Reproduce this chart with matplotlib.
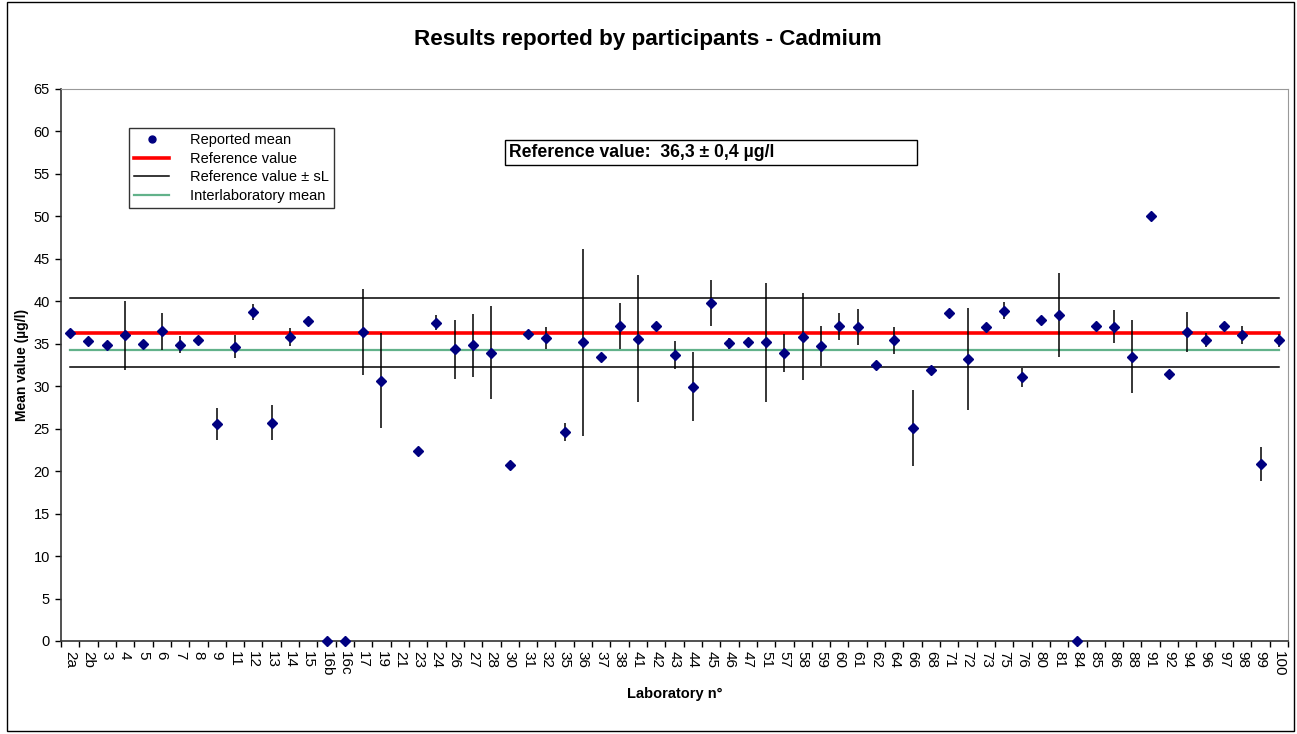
import matplotlib
matplotlib.use("Agg")
import matplotlib.pyplot as plt
from matplotlib.lines import Line2D
from matplotlib.patches import Rectangle
import numpy as np

plt.rcParams['font.family'] = ['Liberation Sans', 'DejaVu Sans']

# laboratory codes along the x axis
labs = ['2a', '2b', '3', '4', '5', '6', '7', '8', '9', '11', '12', '13', '14', '15',
        '16b', '16c', '17', '19', '21', '23', '24', '26', '27', '28', '30', '31', '32',
        '35', '36', '37', '38', '41', '42', '43', '44', '45', '46', '47', '51', '57',
        '58', '59', '60', '61', '62', '64', '66', '68', '71', '72', '73', '75', '76',
        '80', '81', '84', '85', '86', '88', '91', '92', '94', '96', '97', '98', '99', '100']

# reported means (ug/l), lab 21 sent no result
means = [36.25, 35.3, 34.9, 36.0, 34.95, 36.45, 34.9, 35.4, 25.55, 34.65, 38.7, 25.7, 35.75, 37.7,
         0.0, 0.0, 36.35, 30.65, np.nan, 22.4, 37.5, 34.35, 34.8, 33.95, 20.7, 36.15, 35.7,
         24.6, 35.15, 33.4, 37.1, 35.6, 37.05, 33.65, 29.95, 39.8, 35.05, 35.15, 35.15, 33.9,
         35.85, 34.7, 37.05, 37.0, 32.55, 35.4, 25.1, 31.95, 38.65, 33.2, 36.95, 38.9, 31.05,
         37.75, 38.35, 0.0, 37.05, 37.0, 33.5, 50.0, 31.4, 36.4, 35.45, 37.05, 36.05, 20.85, 35.4]

# half width of the uncertainty bars
errs = [0, 0, 0.4, 4.05, 0, 2.2, 1.0, 0, 1.85, 1.35, 0.95, 2.05, 1.05, 0,
        0, 0, 5.05, 5.6, np.nan, 0, 0.85, 3.45, 3.75, 5.5, 0, 0, 1.3,
        1.1, 11.05, 0, 2.7, 7.45, 0, 1.65, 4.05, 2.7, 0.65, 0, 6.95, 2.25,
        5.1, 2.35, 1.55, 2.15, 0, 1.55, 4.5, 0, 0, 6.05, 0, 1.0, 1.1,
        0, 4.95, 0, 0, 1.95, 4.3, 0, 0, 2.35, 0.85, 0.3, 1.05, 2.0, 0.75]

ref_value = 36.3
s_L = 4.05
interlab_mean = 34.3

x = np.arange(len(labs))
ref_line = np.full(len(labs), ref_value)
upper = ref_line + s_L
lower = ref_line - s_L
mean_line = np.full(len(labs), interlab_mean)

W, H = 1297, 734
fig = plt.figure(figsize=(W / 100, H / 100), dpi=100)
ax = fig.add_axes([61 / W, (H - 641) / H, (1288 - 61) / W, (641 - 89) / H])

# reference lines
ax.plot(x, upper, color='black', lw=1.1, zorder=2)
ax.plot(x, lower, color='black', lw=1.1, zorder=2)
ax.plot(x, mean_line, color='#62b28a', lw=1.6, zorder=2)
ax.plot(x, ref_line, color='#ff0000', lw=2.6, zorder=3)

# laboratory results
ax.errorbar(x, means, yerr=errs, fmt='D', color='#000080', markersize=5.5,
            ecolor='black', elinewidth=1.1, capsize=0, zorder=4, clip_on=False)

ax.set_xlim(-0.5, len(labs) - 0.5)
ax.set_ylim(0, 65)
ax.set_yticks(np.arange(0, 66, 5))
ax.tick_params(axis='y', direction='out', length=4, width=1, labelsize=10.5, pad=4)

# ticks between categories, labels centred on them
ax.set_xticks(np.arange(len(labs) + 1) - 0.5)
ax.set_xticklabels([])
ax.tick_params(axis='x', which='major', direction='out', length=4, width=1)
ax.set_xticks(x, minor=True)
ax.set_xticklabels(labs, minor=True, rotation=270, fontsize=11)
ax.tick_params(axis='x', which='minor', length=0, pad=7)
for t in ax.get_xticklabels(minor=True):
    t.set_va('top')
    t.set_ha('center')

for side in ['top', 'right']:
    ax.spines[side].set_color('#999999')
for side in ['left', 'bottom']:
    ax.spines[side].set_color('#333333')
    ax.spines[side].set_linewidth(1.2)

ax.set_ylabel('Mean value (µg/l)', fontsize=10, fontweight='bold', labelpad=3)
ax.set_xlabel('Laboratory n°', fontsize=10.5, fontweight='bold', labelpad=8)
fig.text(648 / W, 1 - 40 / H, 'Results reported by participants - Cadmium',
         fontsize=16.2, fontweight='bold', ha='center', va='center')

handles = [
    Line2D([], [], ls='none', marker='o', markersize=5, color='#000080'),
    Line2D([], [], color='#ff0000', lw=2.6),
    Line2D([], [], color='black', lw=1.1),
    Line2D([], [], color='#62b28a', lw=1.6),
]
names = ['Reported mean', 'Reference value', 'Reference value ± sL', 'Interlaboratory mean']
leg = ax.legend(handles, names, loc='upper left',
                bbox_to_anchor=((129 - 61) / 1227, (641 - 128) / 552),
                borderaxespad=0, fontsize=10.5, frameon=True, fancybox=False,
                handlelength=2.4, handletextpad=1.4, labelspacing=0.32,
                borderpad=0.35)
leg.get_frame().set_edgecolor('black')
leg.get_frame().set_linewidth(1)

fig.text(509 / W, 1 - 152.5 / H, 'Reference value:  36,3 ± 0,4 µg/l',
         fontsize=12.7, fontweight='bold', ha='left', va='center')
fig.patches.append(Rectangle((505 / W, 1 - 165 / H), (917 - 505) / W, 25 / H,
                             transform=fig.transFigure, fill=False,
                             edgecolor='black', lw=1))

# outer chart border
fig.patches.append(Rectangle((7 / W, 3 / H), (1294 - 7) / W, (729) / H,
                             transform=fig.transFigure, fill=False,
                             edgecolor='black', lw=1))

fig.savefig('out.png', dpi=100)
